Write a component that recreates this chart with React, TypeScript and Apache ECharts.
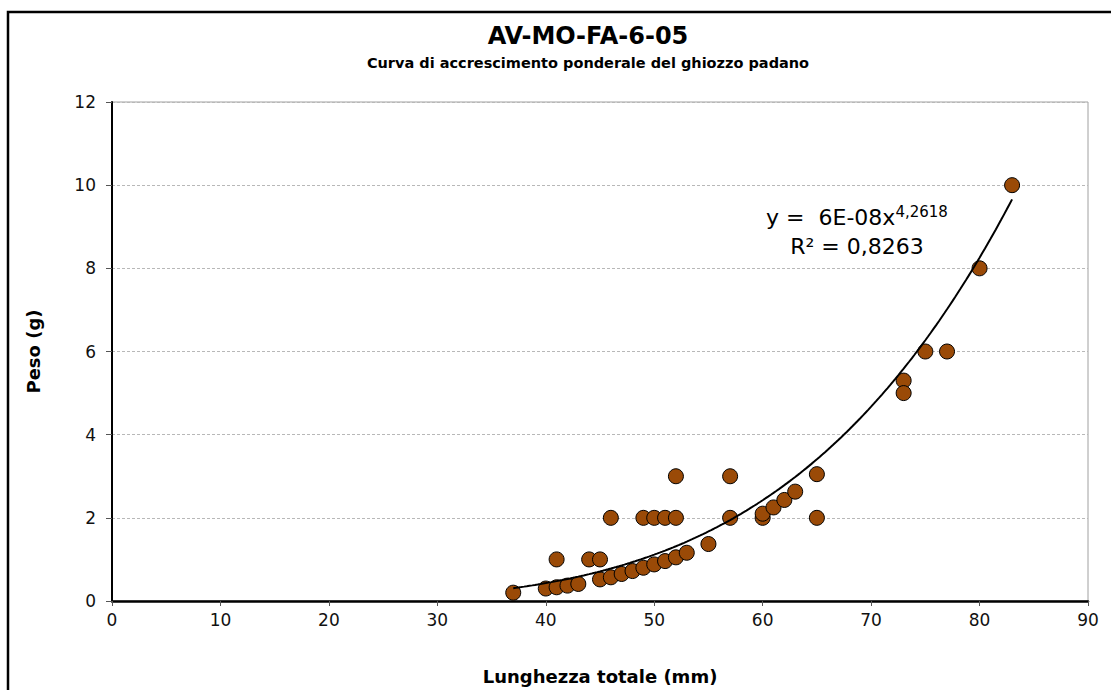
import React, { useEffect, useRef } from "react";
import * as echarts from "echarts";

const lengthsMm = [37, 40, 41, 41, 42, 43, 44, 45, 45, 46, 46, 47, 48, 49, 49, 50, 50, 51, 51, 52, 52, 52, 53, 55, 57, 57, 60, 60, 61, 62, 63, 65, 65, 73, 73, 75, 77, 80, 83];
const weightsG = [0.2, 0.3, 0.33, 1, 0.37, 0.41, 1, 1, 0.52, 2, 0.57, 0.65, 0.72, 2, 0.8, 2, 0.88, 2, 0.96, 2, 3, 1.05, 1.16, 1.37, 3, 2, 2, 2.1, 2.25, 2.43, 2.63, 3.05, 2, 5.3, 5, 6, 6, 8, 10];

// Power trendline y = a * x^b (Excel displays a rounded as 6E-08)
const trendA = 6.4e-8;
const trendB = 4.2618;
const trendFrom = 37;
const trendTo = 83;

const xTicks = { min: 0, max: 90, interval: 10 };
const yTicks = { min: 0, max: 12, interval: 2 };

const FONT = "'DejaVu Sans', Verdana, sans-serif";

export default function App() {
  const ref = useRef<HTMLDivElement>(null);
  useEffect(() => {
    if (!ref.current) return;
    const chart = echarts.init(ref.current, undefined, { renderer: "svg" });
    const points = lengthsMm.map((x, i) => [x, weightsG[i]]);
    const trend: number[][] = [];
    for (let x = trendFrom; x <= trendTo + 1e-9; x += 0.25) {
      trend.push([x, trendA * Math.pow(x, trendB)]);
    }
    chart.setOption({
      animation: false,
      backgroundColor: "#fff",
      textStyle: { fontFamily: FONT },
      grid: {
        left: 112,
        right: 23,
        top: 102,
        bottom: 86,
        show: true,
        borderColor: "#a0a0a0",
        borderWidth: 1,
        backgroundColor: "transparent",
      },
      graphic: [
        {
          type: "rect",
          shape: { x: 8, y: 12, width: 1300, height: 900 },
          style: { fill: "none", stroke: "#000", lineWidth: 2.5 },
          silent: true,
          z: -1,
        },
        {
          type: "text",
          style: {
            x: 588,
            y: 36,
            text: "AV-MO-FA-6-05",
            font: `bold 24px ${FONT}`,
            fill: "#000",
            align: "center",
            verticalAlign: "middle",
          },
        },
        {
          type: "text",
          style: {
            x: 588,
            y: 63,
            text: "Curva di accrescimento ponderale del ghiozzo padano",
            font: `bold 14.5px ${FONT}`,
            fill: "#000",
            align: "center",
            verticalAlign: "middle",
          },
        },
        {
          type: "text",
          style: {
            x: 857,
            y: 217,
            text: "y =  6E-08x{sup|4,2618}",
            rich: {
              sup: { fontSize: 15, fontFamily: FONT, fill: "#000", verticalAlign: "bottom", padding: [0, 0, 11, 0] },
            },
            font: `22px ${FONT}`,
            fill: "#000",
            align: "center",
            verticalAlign: "middle",
          },
        },
        {
          type: "text",
          style: {
            x: 857,
            y: 246,
            text: "R² = 0,8263",
            font: `22px ${FONT}`,
            fill: "#000",
            align: "center",
            verticalAlign: "middle",
          },
        },
      ],
      xAxis: {
        type: "value",
        min: xTicks.min,
        max: xTicks.max,
        interval: xTicks.interval,
        name: "Lunghezza totale (mm)",
        nameLocation: "middle",
        nameGap: 66,
        nameTextStyle: { fontFamily: FONT, fontSize: 18, fontWeight: "bold", color: "#000" },
        axisLine: { onZero: false, lineStyle: { color: "#000", width: 2.5 } },
        axisTick: { show: true, length: 5, lineStyle: { color: "#555", width: 1 } },
        axisLabel: { fontFamily: FONT, fontSize: 17, color: "#111", margin: 10 },
        splitLine: { show: false },
      },
      yAxis: {
        type: "value",
        min: yTicks.min,
        max: yTicks.max,
        interval: yTicks.interval,
        name: "Peso (g)",
        nameLocation: "middle",
        nameGap: 70,
        nameRotate: 90,
        nameTextStyle: { fontFamily: FONT, fontSize: 18, fontWeight: "bold", color: "#000" },
        axisLine: { show: true, onZero: false, lineStyle: { color: "#000", width: 2 } },
        axisTick: { show: true, length: 6, lineStyle: { color: "#555", width: 1 } },
        axisLabel: { fontFamily: FONT, fontSize: 17, color: "#111", margin: 16 },
        splitLine: { show: true, lineStyle: { color: "#b8b8b8", type: [3, 2], width: 1 } },
      },
      series: [
        {
          type: "scatter",
          data: points,
          symbol: "circle",
          symbolSize: 15,
          itemStyle: { color: "#9A4A07", opacity: 1, borderColor: "#000", borderWidth: 1 },
          z: 3,
        },
        {
          type: "line",
          data: trend,
          showSymbol: false,
          smooth: false,
          lineStyle: { color: "#000", width: 2 },
          z: 4,
        },
      ],
    });
    return () => chart.dispose();
  }, []);
  return (
    <div
      ref={ref}
      style={{ position: "absolute", left: 0, top: 0, width: 1111, height: 690 }}
    />
  );
}
